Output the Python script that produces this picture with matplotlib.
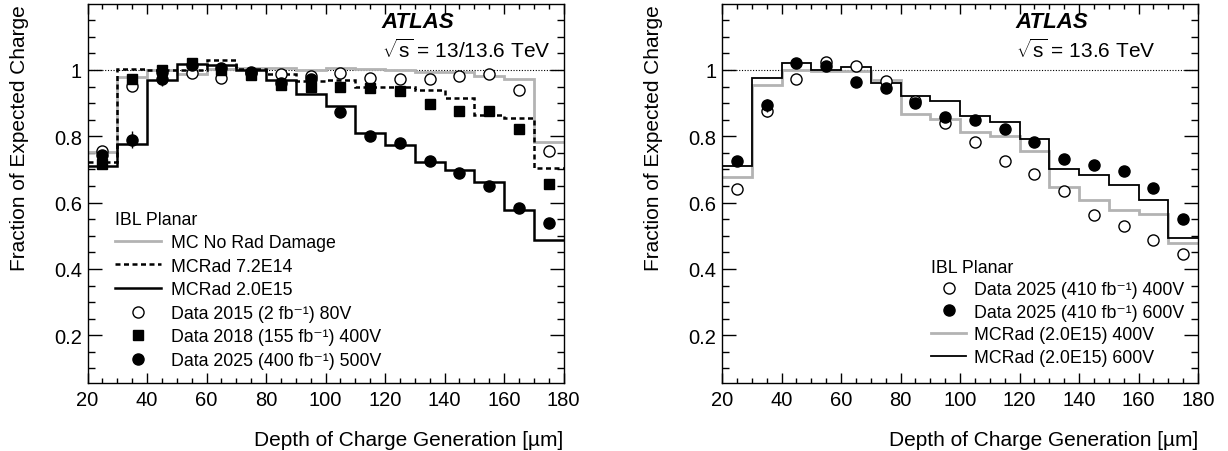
import numpy as np
import matplotlib.pyplot as plt
from matplotlib.lines import Line2D
from matplotlib.ticker import MultipleLocator, FixedLocator

plt.rcParams['font.family'] = ['Liberation Sans', 'DejaVu Sans']
plt.rcParams['mathtext.fontset'] = 'custom'
plt.rcParams['mathtext.rm'] = 'Liberation Sans'
plt.rcParams['mathtext.it'] = 'Liberation Sans:italic'
plt.rcParams['mathtext.bf'] = 'Liberation Sans:bold'

# 10 um depth bins from 20 to 180 um
edges = np.arange(20, 181, 10)
centers = edges[:-1] + 5

# Left: IBL planar, runs 2015 / 2018 / 2025
mc_no_rad = [0.752, 0.979, 1.000, 0.989, 1.003, 1.007, 1.005, 1.000,
             1.007, 1.003, 1.001, 0.995, 0.993, 0.981, 0.973, 0.784]
mc_rad_72e14 = [0.721, 1.003, 1.000, 0.999, 1.031, 1.003, 0.987, 0.966,
                0.970, 0.949, 0.948, 0.941, 0.915, 0.865, 0.854, 0.703]
mc_rad_20e15 = [0.709, 0.776, 0.971, 1.017, 1.014, 1.000, 0.969, 0.929,
                0.890, 0.810, 0.774, 0.724, 0.698, 0.661, 0.578, 0.488]
data_2015 = [0.757, 0.951, 0.995, 0.991, 0.977, 0.990, 0.988, 0.983,
             0.991, 0.975, 0.973, 0.973, 0.983, 0.988, 0.939, 0.755]
data_2018 = [0.715, 0.972, 0.999, 1.022, 0.999, 0.985, 0.955, 0.949,
             0.950, 0.946, 0.937, 0.896, 0.877, 0.876, 0.823, 0.656]
data_2025 = [0.744, 0.790, 0.972, 1.014, 1.006, 0.994, 0.962, 0.972,
             0.872, 0.801, 0.780, 0.727, 0.689, 0.651, 0.583, 0.539]
err_2025 = [0.010, 0.025, 0.020, 0.010, 0.010, 0.010, 0.010, 0.010,
            0.015, 0.012, 0.010, 0.008, 0.008, 0.008, 0.008, 0.008]

# Right: IBL planar, 2025 at two bias voltages
data_400v = [0.642, 0.877, 0.974, 1.025, 1.011, 0.968, 0.905, 0.840,
             0.784, 0.727, 0.685, 0.634, 0.564, 0.529, 0.487, 0.444]
data_600v = [0.726, 0.894, 1.022, 1.012, 0.963, 0.945, 0.901, 0.858,
             0.850, 0.823, 0.782, 0.732, 0.714, 0.695, 0.644, 0.550]
err_right = [0.008, 0.020, 0.008, 0.008, 0.008, 0.008, 0.008, 0.008,
             0.008, 0.008, 0.008, 0.008, 0.008, 0.008, 0.008, 0.008]
mc_400v = [0.677, 0.956, 1.000, 0.998, 0.996, 0.970, 0.868, 0.851,
           0.813, 0.800, 0.755, 0.647, 0.608, 0.577, 0.566, 0.477]
mc_600v = [0.710, 0.977, 1.021, 1.000, 1.010, 0.960, 0.922, 0.905,
           0.862, 0.844, 0.793, 0.702, 0.682, 0.652, 0.609, 0.494]

grey = '#b3b3b3'
y_lo, y_hi = 0.056, 1.199
leg_size = 12.8

fig = plt.figure(figsize=(12.28, 4.52), dpi=100)
ax1 = fig.add_axes([87.5 / 1228, 68 / 452, 476 / 1228, 379 / 452])
ax2 = fig.add_axes([722 / 1228, 68 / 452, 476 / 1228, 379 / 452])


def style_axes(ax):
    ax.set_xlim(20, 180)
    ax.set_ylim(y_lo, y_hi)
    ax.xaxis.set_major_locator(MultipleLocator(20))
    ax.xaxis.set_minor_locator(MultipleLocator(5))
    ax.yaxis.set_major_locator(FixedLocator([0.2, 0.4, 0.6, 0.8, 1.0]))
    ax.yaxis.set_minor_locator(MultipleLocator(0.05))
    ax.set_yticklabels(['0.2', '0.4', '0.6', '0.8', '1'])
    ax.tick_params(which='both', direction='in', top=True, right=True,
                   labelsize=14.5, width=1.0)
    ax.tick_params(axis='x', which='major', length=7, pad=5)
    ax.tick_params(axis='x', which='minor', length=3.5)
    ax.tick_params(axis='y', which='major', length=10, pad=4)
    ax.tick_params(axis='y', which='minor', length=5)
    for s in ax.spines.values():
        s.set_linewidth(1.0)
    ax.axhline(1.0, color='black', lw=0.8, ls=(0, (1, 1.5)), zorder=1)
    ax.set_xlabel('Depth of Charge Generation [\u00b5m]', fontsize=15,
                  loc='right', labelpad=15)
    ax.set_ylabel('Fraction of Expected Charge', fontsize=15, loc='top',
                  labelpad=18)


for ax in (ax1, ax2):
    style_axes(ax)

# Left panel
ax1.stairs(mc_no_rad, edges, color=grey, lw=2.0, baseline=None, zorder=2)
ax1.stairs(mc_rad_72e14, edges, color='black', lw=1.8, ls=(0, (2, 1.4)),
           baseline=None, zorder=3)
ax1.stairs(mc_rad_20e15, edges, color='black', lw=1.8, baseline=None, zorder=3)
ax1.plot(centers, data_2015, 'o', ms=8, mfc='white', mec='black', mew=1.0,
         zorder=4)
ax1.plot(centers, data_2018, 's', ms=7.5, color='black', zorder=5)
ax1.errorbar(centers, data_2025, yerr=err_2025, fmt='o', ms=8, color='black',
             elinewidth=1.0, capsize=0, zorder=6)

ax1.text(0.618, 0.955, 'ATLAS', transform=ax1.transAxes, fontsize=16,
         fontweight='bold', fontstyle='italic', va='center')
ax1.text(0.618, 0.88, r'$\sqrt{\mathrm{s}}$ = 13/13.6 TeV',
         transform=ax1.transAxes, fontsize=15, va='center')

left_handles = [
    Line2D([], [], color=grey, lw=2.0),
    Line2D([], [], color='black', lw=1.8, ls=(0, (2, 1.4))),
    Line2D([], [], color='black', lw=1.8),
    Line2D([], [], ls='none', marker='o', ms=8, mfc='white', mec='black'),
    Line2D([], [], ls='none', marker='s', ms=7.5, color='black'),
    Line2D([], [], ls='none', marker='o', ms=8, color='black'),
]
left_labels = [
    'MC No Rad Damage',
    'MCRad 7.2E14',
    'MCRad 2.0E15',
    'Data 2015 (2 fb\u207b\u00b9) 80V',
    'Data 2018 (155 fb\u207b\u00b9) 400V',
    'Data 2025 (400 fb\u207b\u00b9) 500V',
]
ax1.legend(left_handles, left_labels, title='IBL Planar', loc='upper left',
           bbox_to_anchor=(0.058, 0.455), frameon=False, fontsize=leg_size,
           title_fontsize=leg_size, alignment='left', borderpad=0,
           borderaxespad=0, handlelength=2.6, handletextpad=0.55,
           labelspacing=0.37)

# Right panel
ax2.stairs(mc_400v, edges, color=grey, lw=2.0, baseline=None, zorder=2)
ax2.stairs(mc_600v, edges, color='black', lw=1.3, baseline=None, zorder=3)
ax2.errorbar(centers, data_400v, yerr=err_right, fmt='o', ms=8, mfc='white',
             mec='black', ecolor='black', mew=1.0, elinewidth=1.0, capsize=0,
             zorder=4)
ax2.errorbar(centers, data_600v, yerr=err_right, fmt='o', ms=8, color='black',
             elinewidth=1.0, capsize=0, zorder=5)

ax2.text(0.617, 0.955, 'ATLAS', transform=ax2.transAxes, fontsize=16,
         fontweight='bold', fontstyle='italic', va='center')
ax2.text(0.617, 0.88, r'$\sqrt{\mathrm{s}}$ = 13.6 TeV',
         transform=ax2.transAxes, fontsize=15, va='center')

right_handles = [
    Line2D([], [], ls='none', marker='o', ms=8, mfc='white', mec='black'),
    Line2D([], [], ls='none', marker='o', ms=8, color='black'),
    Line2D([], [], color=grey, lw=2.0),
    Line2D([], [], color='black', lw=1.3),
]
right_labels = [
    'Data 2025 (410 fb\u207b\u00b9) 400V',
    'Data 2025 (410 fb\u207b\u00b9) 600V',
    'MCRad (2.0E15) 400V',
    'MCRad (2.0E15) 600V',
]
ax2.legend(right_handles, right_labels, title='IBL Planar', loc='upper left',
           bbox_to_anchor=(0.44, 0.328), frameon=False, fontsize=leg_size,
           title_fontsize=leg_size, alignment='left', borderpad=0,
           borderaxespad=0, handlelength=1.95, handletextpad=0.45,
           labelspacing=0.31)

fig.savefig('out.png', dpi=100)
